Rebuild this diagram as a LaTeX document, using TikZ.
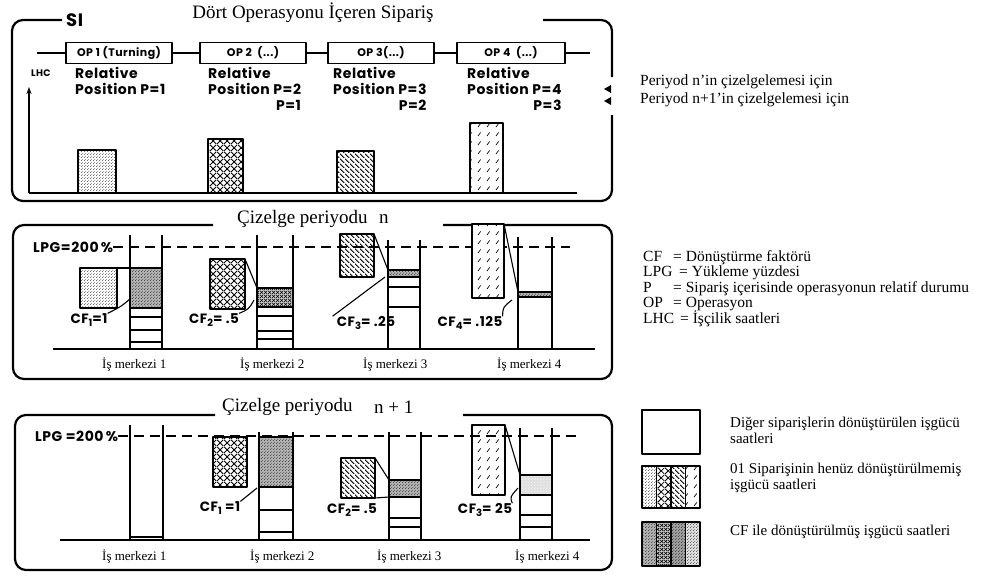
\documentclass[tikz,border=0pt]{standalone}
\usepackage{fontspec}
\setmainfont{Liberation Serif}
\newfontfamily\figsans{Poppins}[LetterSpace=4]
\usetikzlibrary{patterns,patterns.meta,arrows.meta}
\newcommand{\cfsub}[1]{\raisebox{-3pt}{\fontsize{10}{11}\selectfont#1}}
\tikzdeclarepattern{name=stipple,type=uncolored,bounding box={(0pt,0pt) and (3pt,3pt)},tile size={(3pt,3pt)},
  code={\fill (0.75pt,0.75pt) circle (0.5pt); \fill (2.25pt,2.25pt) circle (0.5pt);}}
\tikzdeclarepattern{name=diamonds,type=uncolored,bounding box={(0pt,0pt) and (7pt,7pt)},tile size={(7pt,7pt)},
  code={\draw[line width=0.9pt] (0pt,0pt) -- (7pt,7pt) (0pt,7pt) -- (7pt,0pt);}}
\tikzdeclarepattern{name=smalldiamonds,type=uncolored,bounding box={(0pt,0pt) and (4pt,4pt)},tile size={(4pt,4pt)},
  code={\draw[line width=0.7pt] (0pt,0pt) -- (4pt,4pt) (0pt,4pt) -- (4pt,0pt);}}
\tikzdeclarepattern{name=hatchnw,type=uncolored,bounding box={(0pt,0pt) and (5pt,5pt)},tile size={(5pt,5pt)},
  code={\draw[line width=1pt] (0pt,5pt) -- (5pt,0pt);}}
\tikzdeclarepattern{name=dashdiag,type=uncolored,bounding box={(0pt,0pt) and (9pt,9pt)},tile size={(9pt,9pt)},
  code={\draw[line width=0.7pt] (1pt,1pt) -- (4pt,5pt);}}
\begin{document}
\begin{tikzpicture}[x=1pt,y=-1pt, line join=round,
  frame/.style={line width=2.2pt, rounded corners=11pt},
  bar/.style={draw, line width=1.6pt},
  col/.style={line width=1.7pt},
  thin/.style={line width=1.1pt},
  sans/.style={font=\figsans\bfseries\fontsize{14}{16}\selectfont, inner sep=0pt},
  cft/.style={font=\figsans\bfseries\fontsize{13.5}{15}\selectfont, inner sep=0pt},
  reltext/.style={align=left, anchor=north west, inner sep=0pt, font=\figsans\bfseries\fontsize{14}{16}\selectfont},
  opbox/.style={draw, line width=1.6pt, minimum height=21pt, inner sep=0pt, font=\figsans\bfseries\fontsize{11}{12}\selectfont},
  ttl/.style={font=\fontsize{19}{20}\selectfont, inner sep=1pt},
  wc/.style={font=\fontsize{13}{14}\selectfont, inner sep=0pt, anchor=west},
  leg/.style={font=\fontsize{15}{16}\selectfont, inner sep=0pt, anchor=west, align=left},
  abbr/.style={font=\fontsize{15.5}{16}\selectfont, inner sep=0pt, anchor=base west},
  dashln/.style={line width=1.3pt, dash pattern=on 10pt off 6pt},
  darkfill/.style={preaction={fill=gray!60}, pattern=stipple},
  ]
\useasboundingbox (0,0) rectangle (1000,578);

% ================= TOP PANEL =================
\draw[frame] (62,20) -- (12,20) -- (12,201) -- (612,201) -- (612,115);
\draw[frame] (543,20) -- (612,20) -- (612,77);
\node[sans, font=\figsans\bfseries\fontsize{18}{18}\selectfont, anchor=west] (strunc) at (66,20) {SI};
\fill[white] (82,0) rectangle (540,30);
\node[ttl] (title1) at (313,13) {Dört Operasyonu İçeren Sipariş};

\coordinate (chainL) at (37,53);
\coordinate (chainR) at (590,53);
\node[opbox, minimum width=106pt] (op1) at (119,53) {OP 1 (Turning)};
\node[opbox, minimum width=106pt] (op2) at (253,53) {OP 2 \ (...)};
\node[opbox, minimum width=106pt] (op3) at (381,53) {OP 3(...)};
\node[opbox, minimum width=108pt] (op4) at (511,53) {OP 4 \ (...)};
\draw[thin] (chainL) -- (op1) -- (op2) -- (op3) -- (op4) -- (chainR);

\node[reltext] (rel1) at (75,67) {Relative\\Position P=1};
\node[reltext] (rel2) at (208,67) {Relative\\Position P=2};
\node[reltext, anchor=north east] (rel2b) at ([yshift=-5pt]rel2.south east) {P=1};
\node[reltext] (rel3) at (333,67) {Relative\\Position P=3};
\node[reltext, anchor=north east] (rel3b) at ([yshift=-5pt]rel3.south east) {P=2};
\node[reltext] (rel4) at (467,67) {Relative\\Position P=4};
\node[reltext, anchor=north east] (rel4b) at ([yshift=-5pt]rel4.south east) {P=3};

\node[sans, font=\figsans\bfseries\fontsize{9.5}{10}\selectfont, anchor=west] (lhc) at (31,73) {LHC};
\coordinate (axO) at (29,193);
\coordinate (axT) at (29,87);
\coordinate (axR) at (577,193);
\draw[thin, -{Stealth[length=7pt,width=5pt]}] (axO) -- (axT);
\draw[thin] (axO) -- (axR);

\draw[bar, pattern=stipple] (78,193) rectangle (116,150);
\draw[bar, pattern=diamonds] (208,193) rectangle (243,139);
\draw[bar, pattern=hatchnw] (337,193) rectangle (374,151);
\draw[bar, pattern=dashdiag] (470,193) rectangle (503,123);

\fill (604,89) -- (611,85) -- (611,93) -- cycle;
\fill (604,101) -- (611,97) -- (611,105) -- cycle;

\node[leg, font=\fontsize{15.5}{17}\selectfont] (pern) at (640,82) {Periyod n’in çizelgelemesi için};
\node[leg, font=\fontsize{15.5}{17}\selectfont] (pern1) at (640,100) {Periyod n+1’in çizelgelemesi için};

% ================= MIDDLE PANEL =================
\draw[frame] (213,225) -- (13,225) -- (13,379) -- (612,379) -- (612,225) -- (443,225);
\node[ttl, anchor=west] (title2) at (236,219) {Çizelge periyodu};
\node[ttl, anchor=west] (title2n) at (378,219) {n};

\node[sans, anchor=west] (lpg1) at (33,247) {LPG=200\,\%};
\coordinate (lpg1end) at (570,247);
\draw[dashln] (lpg1.east) -- (lpg1end);

\coordinate (b2L) at (53,349);
\coordinate (b2R) at (595,349);
\draw[thin] (b2L) -- (b2R);
\node[wc] (wc21) at (102,365) {İş merkezi 1};
\node[wc] (wc22) at (240,365) {İş merkezi 2};
\node[wc] (wc23) at (363,365) {İş merkezi 3};
\node[wc] (wc24) at (497,365) {İş merkezi 4};

% WC1
\draw[bar, pattern=stipple] (80,268) rectangle (117,308);
\draw[bar, darkfill] (130,268) rectangle (162,308);
\draw[thin] (117,268) -- (130,268);
\draw[thin] (130,317) -- (162,317) (130,330) -- (162,330) (130,342) -- (162,342);
\draw[col] (130,235) -- (130,349) (162,235) -- (162,349);
\node[cft] (cf1) at (89,320) {CF\cfsub{1}=1};
\coordinate (cf1t) at (131,298);
\draw[thin] (cf1.north east) .. controls (122,306) .. (cf1t);

% WC2
\draw[bar, pattern=diamonds] (210,259) rectangle (245,309);
\draw[bar, preaction={fill=gray!40}, pattern=smalldiamonds] (257,288) rectangle (293,307);
\draw[thin] (245,259) -- (257,288);
\draw[thin] (257,316) -- (293,316) (257,331) -- (293,331) (257,339) -- (293,339);
\draw[col] (257,235) -- (257,349) (293,235) -- (293,349);
\node[cft] (cf2) at (214,320) {CF\cfsub{2}= .5};
\coordinate (cf2t) at (254,300);
\draw[thin] (cf2.north east) .. controls (249,309) .. (cf2t);

% WC3
\draw[bar, pattern=hatchnw] (340,234) rectangle (374,277);
\draw[bar, darkfill] (388,270) rectangle (420,277);
\draw[thin] (374,234) -- (388,270);
\draw[thin] (388,287) -- (420,287) (388,307) -- (420,307);
\draw[col] (388,240) -- (388,349) (420,240) -- (420,349);
\node[cft] (cf3) at (366,323) {CF\cfsub{3}= .25};
\coordinate (cf3t) at (385,277);
\draw[thin] ([xshift=-4pt]cf3.north west) -- (cf3t);

% WC4
\draw[bar, preaction={fill=white}, pattern=dashdiag] (472,224) rectangle (504,298);
\draw[bar, darkfill] (518,292) rectangle (552,297);
\draw[thin] (504,224) -- (518,292);
\draw[col] (518,237) -- (518,349) (552,237) -- (552,349);
\node[cft] (cf4) at (470,323) {CF\cfsub{4}= .125};
\coordinate (cf4t) at (512,300);
\draw[thin] (cf4.north east) .. controls (503,307) .. (cf4t);

% ================= BOTTOM PANEL =================
\draw[frame] (215,415) -- (15,415) -- (15,570) -- (612,570) -- (612,415) -- (463,415);
\node[ttl, anchor=west] (title3) at (221,407) {Çizelge periyodu};
\node[ttl, anchor=west] (title3n) at (373,407) {n + 1};

\node[sans, anchor=west] (lpg2) at (35,436) {LPG =200\,\%};
\coordinate (lpg2end) at (580,436);
\draw[dashln] (lpg2.east) -- (lpg2end);

\coordinate (b3L) at (60,540);
\coordinate (b3R) at (590,540);
\draw[thin] (b3L) -- (b3R);
\node[wc] (wc31) at (102,557) {İş merkezi 1};
\node[wc] (wc32) at (250,557) {İş merkezi 2};
\node[wc] (wc33) at (377,557) {İş merkezi 3};
\node[wc] (wc34) at (515,557) {İş merkezi 4};

% WC1
\draw[thin] (130,537) -- (163,537);
\draw[col] (130,425) -- (130,540) (163,425) -- (163,540);

% WC2
\draw[bar, pattern=diamonds] (213,437) rectangle (247,487);
\draw[bar, darkfill] (259,437) rectangle (293,487);
\draw[thin] (259,510) -- (293,510) (259,532) -- (293,532);
\draw[col] (259,432) -- (259,540) (293,432) -- (293,540);
\node[cft] (cf5) at (220,508) {CF\cfsub{1} =1};
\coordinate (cf5t) at (257,488);
\draw[thin] (cf5.north east) .. controls (248,494) .. (cf5t);

% WC3
\draw[bar, pattern=hatchnw] (341,458) rectangle (375,498);
\draw[bar, darkfill] (389,480) rectangle (421,497);
\draw[thin] (375,458) -- (389,480);
\draw[thin] (375,498) -- (389,497);
\draw[thin] (389,518) -- (421,518) (389,527) -- (421,527);
\draw[col] (389,432) -- (389,540) (421,432) -- (421,540);
\node[cft] (cf6) at (352,510) {CF\cfsub{2}= .5};

% WC4
\draw[bar, pattern=dashdiag] (472,425) rectangle (505,495);
\draw[bar, preaction={fill=gray!25}, pattern=stipple, pattern color=white] (520,475) rectangle (552,495);
\draw[thin] (505,425) -- (520,475);
\draw[thin] (520,515) -- (552,515) (520,527) -- (552,527);
\draw[col] (520,428) -- (520,540) (552,428) -- (552,540);
\node[cft] (cf7) at (485,510) {CF\cfsub{3}= 25};
\coordinate (cf7t) at (518,488);
\draw[thin] (cf7.north east) .. controls (510,497) .. (cf7t);

% ================= RIGHT LEGENDS =================
\node[abbr] (abCF) at (643,261) {CF};
\node[abbr] (dfCF) at (673,261) {= Dönüştürme faktörü};
\node[abbr] (abLPG) at (643,276.5) {LPG};
\node[abbr] (dfLPG) at (679,276.5) {= Yükleme yüzdesi};
\node[abbr] (abP) at (643,292) {P};
\node[abbr] (dfP) at (673,292) {= Sipariş içerisinde operasyonun relatif durumu};
\node[abbr] (abOP) at (643,307.5) {OP};
\node[abbr] (dfOP) at (673,307.5) {= Operasyon};
\node[abbr] (abLHC) at (643,323) {LHC};
\node[abbr] (dfLHC) at (680,323) {= İşçilik saatleri};

\draw[line width=2pt] (642,410) rectangle (700,454);
\node[leg] (legA) at (730,430) {Diğer siparişlerin dönüştürülen işgücü\\saatleri};

\path[pattern=stipple] (642,466) rectangle (656.5,508);
\path[pattern=diamonds] (656.5,466) rectangle (671,508);
\path[pattern=hatchnw] (671,466) rectangle (685.5,508);
\path[pattern=dashdiag] (685.5,466) rectangle (700,508);
\draw[line width=1.2pt] (656.5,466) -- (656.5,508) (671,466) -- (671,508) (685.5,466) -- (685.5,508);
\draw[line width=2pt] (642,466) rectangle (700,508);
\node[leg] (legB) at (730,478) {01 Siparişinin henüz dönüştürülmemiş\\işgücü saatleri};

\path[darkfill] (642,522) rectangle (656.5,566);
\path[preaction={fill=gray!40}, pattern=smalldiamonds] (656.5,522) rectangle (671,566);
\path[preaction={fill=gray!75}, pattern=stipple] (671,522) rectangle (685.5,566);
\path[preaction={fill=gray!25}, pattern=stipple] (685.5,522) rectangle (700,566);
\draw[line width=1.2pt] (656.5,522) -- (656.5,566) (671,522) -- (671,566) (685.5,522) -- (685.5,566);
\draw[line width=2pt] (642,522) rectangle (700,566);
\node[leg] (legC) at (730,532) {CF ile dönüştürülmüş işgücü saatleri};
\end{tikzpicture}
\end{document}
